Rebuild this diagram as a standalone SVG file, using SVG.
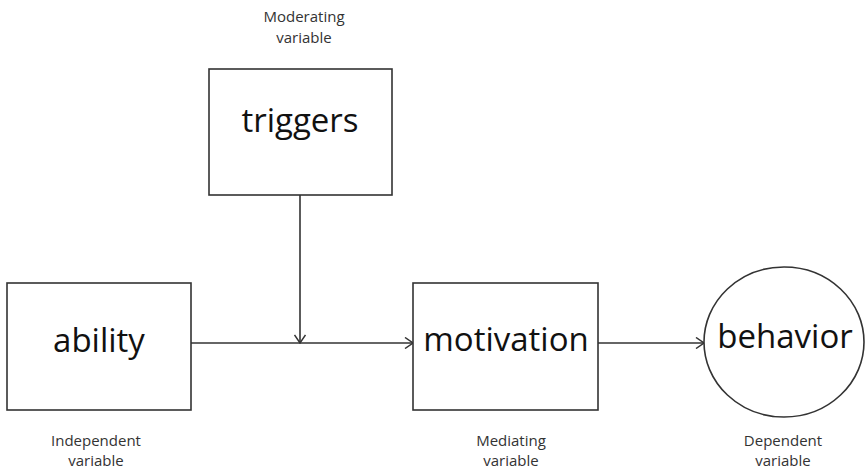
<svg xmlns="http://www.w3.org/2000/svg" width="865" height="474" viewBox="0 0 865 474">
  <defs>
    <style>
      .box { fill: #fff; stroke: #333; stroke-width: 1.6; }
      .name { font-family: "Open Sans", "Liberation Sans", sans-serif; font-size: 33px; fill: #111; text-anchor: middle; }
      .role { font-family: "Open Sans", "Liberation Sans", sans-serif; font-size: 15px; fill: #333; text-anchor: middle; }
      .link { fill: none; stroke: #333; stroke-width: 1.6; }
    </style>
    <marker id="arrow" viewBox="0 0 10 12" refX="9" refY="6" markerWidth="10" markerHeight="12" markerUnits="userSpaceOnUse" orient="auto">
      <path d="M1,0.5 L9,6 L1,11.5" fill="none" stroke="#333" stroke-width="1.5"/>
    </marker>
  </defs>
  <rect width="865" height="474" fill="#fff"/>

  <!-- connectors -->
  <g id="connectors">
    <path class="link" d="M191,343 H413" marker-end="url(#arrow)"/>
    <path class="link" d="M300,195 V343" marker-end="url(#arrow)"/>
    <path class="link" d="M598,343 H704" marker-end="url(#arrow)"/>
  </g>

  <g id="triggers">
    <text class="role" x="304" y="22">Moderating</text>
    <text class="role" x="304" y="43">variable</text>
    <rect class="box" x="209" y="69" width="183" height="126"/>
    <text class="name" x="300" y="132">triggers</text>
  </g>

  <g id="ability">
    <rect class="box" x="7" y="283" width="184" height="127"/>
    <text class="name" x="99" y="352">ability</text>
    <text class="role" x="96" y="446">Independent</text>
    <text class="role" x="96" y="466">variable</text>
  </g>

  <g id="motivation">
    <rect class="box" x="413" y="283" width="185" height="127"/>
    <text class="name" x="506" y="351">motivation</text>
    <text class="role" x="511" y="446">Mediating</text>
    <text class="role" x="511" y="466">variable</text>
  </g>

  <g id="behavior">
    <ellipse class="box" cx="784" cy="342" rx="80" ry="75"/>
    <text class="name" x="785" y="348">behavior</text>
    <text class="role" x="783" y="446">Dependent</text>
    <text class="role" x="783" y="466">variable</text>
  </g>
</svg>
